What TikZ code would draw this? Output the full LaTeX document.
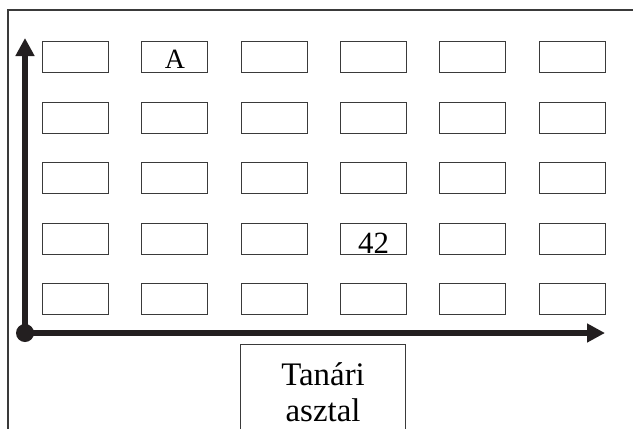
\documentclass[tikz,border=0pt]{standalone}
\usepackage{fontspec}
\setmainfont{Liberation Serif}
\usetikzlibrary{arrows.meta}
\definecolor{axis}{HTML}{231F20}
\definecolor{edge}{HTML}{3A3A3A}
\begin{document}
\begin{tikzpicture}[x=1bp,y=-1bp,
  desk/.style={draw=edge,line width=1.1bp,rectangle,inner sep=0pt,
    minimum width=66bp,minimum height=31bp,anchor=north west},
  axisline/.style={draw=axis,line width=6bp,-{Triangle[length=18bp,width=18bp]}},
  lbl/.style={anchor=base,inner sep=0pt}]
\useasboundingbox (0,0) rectangle (633,428);
\fill[white] (0,0) rectangle (633,428);
% frame
\draw[edge,line width=1.1bp] (8,430) -- (8,10) -- (634,10);
% desks
\foreach \r/\y in {1/41,2/101.5,3/162,4/222.5,5/283}{
  \foreach \c/\x in {1/42,2/141.3,3/240.6,4/340,5/439,6/538.6}{
    \node[desk] (d-\r-\c) at (\x,\y) {};
  }
}
\node[lbl,font=\fontsize{28}{32}\selectfont] (la) at ([yshift=5bp]d-1-2.south) {A};
\node[lbl,font=\fontsize{31}{36}\selectfont] (l42) at ([yshift=1bp]d-4-4.south) {42};
% axes
\coordinate (o) at (25,333);
\coordinate (ytip) at (25,38);
\coordinate (xtip) at (605,333);
\draw[axisline] (o) -- (ytip);
\draw[axisline] (o) -- (xtip);
\fill[axis] (o) circle (9bp);
% teacher desk
\node[draw=edge,line width=1.1bp,rectangle,inner sep=0pt,minimum width=165bp,
  minimum height=100bp,anchor=north west] (t) at (240,344) {};
\node[lbl,font=\fontsize{33}{36}\selectfont] (t1) at ([yshift=-41bp]t.north) {Tanári};
\node[lbl,font=\fontsize{33}{36}\selectfont] (t2) at ([yshift=-77bp]t.north) {asztal};
\end{tikzpicture}
\end{document}
